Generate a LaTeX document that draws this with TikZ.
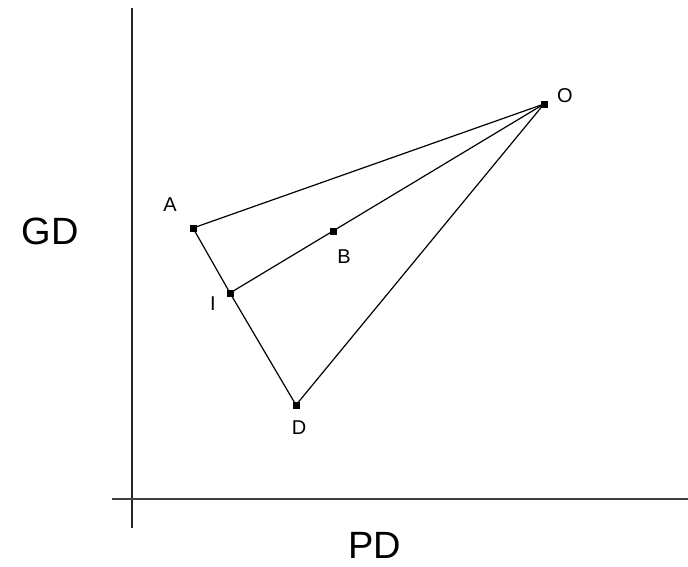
\documentclass[tikz,border=0pt]{standalone}
\usepackage{fontspec}
\setmainfont{Liberation Sans}
\begin{document}
\begin{tikzpicture}[x=1pt,y=-1pt,
  pt/.style={fill=black,inner sep=0pt,minimum size=7pt,rectangle},
  lab/.style={font=\fontsize{20}{22}\selectfont,inner sep=0pt},
  axlab/.style={font=\fontsize{38}{40}\selectfont,inner sep=0pt},
  edge/.style={line width=1.2pt,black},
  axis/.style={line width=1.8pt,black!75}]
\useasboundingbox (0,0) rectangle (688,566);
\coordinate (vtop) at (132,8);
\coordinate (vbot) at (132,528);
\coordinate (hl) at (112,499);
\coordinate (hr) at (688,499);
\draw[line width=1.4pt,black!85] (vtop) -- (vbot);
\draw[axis] (hl) -- (hr);
\node[pt] (A) at (193,228) {};
\node[pt] (B) at (333,231) {};
\node[pt] (I) at (230,293) {};
\node[pt] (D) at (296,405) {};
\node[pt] (O) at (544,104) {};
\draw[edge] (A.center) -- (O.center);
\draw[edge] (A.center) -- (I.center) -- (D.center) -- (O.center);
\draw[edge] (I.center) -- (B.center) -- (O.center);
\node[lab] (lA) at (170,205) {A};
\node[lab] (lB) at (344,257) {B};
\node[lab] (lI) at (213,304) {I};
\node[lab] (lD) at (299,428) {D};
\node[lab] (lO) at (565,96) {O};
\node[axlab] (GD) at (50,231) {GD};
\node[axlab] (PD) at (375,545) {PD};
\end{tikzpicture}
\end{document}
